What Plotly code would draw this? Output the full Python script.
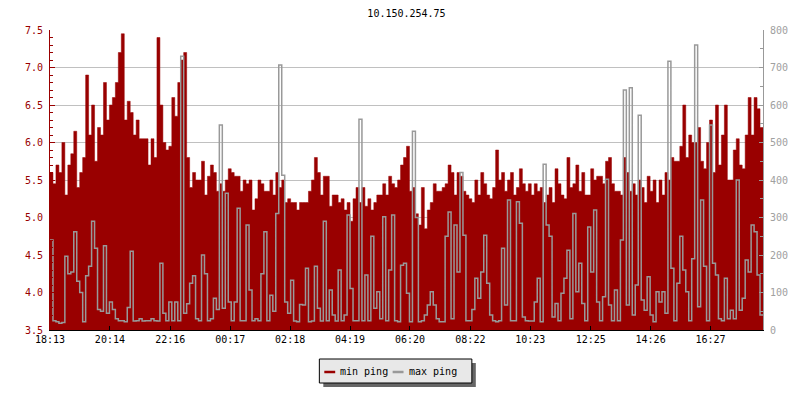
import plotly.graph_objects as go

# smokeping-style latency chart for one host, 24h window, 6 min samples
host = "10.150.254.75"
start_time = "18:13"
step_min = 6
tick_labels = ["18:13", "20:14", "22:16", "00:17", "02:18", "04:19",
               "06:20", "08:22", "10:23", "12:25", "14:26", "16:27"]

# min ping (ms, left axis)
min_ping = [
    5.6, 5.45, 5.7, 5.6, 6.0, 5.3, 5.7, 5.85, 6.15, 5.4, 5.6, 5.8, 6.9, 6.1, 6.5, 5.75, 6.2, 6.1, 6.8, 6.3,
    6.5, 6.6, 6.8, 7.2, 7.45, 6.3, 6.55, 6.4, 6.1, 6.3, 6.05, 6.05, 6.05, 5.7, 6.05, 5.8, 7.4, 6.5, 6.0, 5.9,
    5.95, 6.6, 6.35, 6.8, 7.1, 7.2, 5.8, 5.4, 5.6, 5.5, 5.5, 5.75, 5.3, 5.55, 5.7, 5.6, 5.35, 5.45, 5.35, 5.5,
    5.65, 5.6, 5.55, 5.55, 5.35, 5.5, 5.45, 5.5, 5.1, 5.25, 5.5, 5.45, 5.35, 5.35, 5.5, 5.3, 5.6, 5.4, 5.5, 5.2,
    5.25, 5.2, 5.2, 5.1, 5.2, 5.2, 5.2, 5.35, 5.5, 5.8, 5.6, 5.3, 5.55, 5.55, 5.15, 5.3, 5.3, 5.2, 5.25, 5.1,
    5.2, 4.95, 5.25, 5.4, 5.2, 5.4, 5.15, 5.25, 5.1, 5.2, 5.3, 5.3, 5.45, 5.3, 5.55, 5.45, 5.4, 5.5, 5.7, 5.8,
    5.95, 5.35, 5.4, 5.05, 4.9, 5.4, 4.85, 5.1, 5.2, 5.45, 5.35, 5.35, 5.4, 5.45, 5.7, 5.6, 5.3, 5.6, 5.55, 5.35,
    5.3, 5.25, 5.2, 5.5, 5.3, 5.6, 5.45, 5.3, 5.25, 5.4, 5.9, 5.5, 5.6, 5.35, 5.5, 5.6, 5.3, 5.4, 5.65, 5.45,
    5.35, 5.45, 5.3, 5.45, 5.35, 5.4, 5.2, 5.3, 5.4, 5.2, 5.65, 5.45, 5.3, 5.25, 5.8, 5.4, 5.45, 5.7, 5.35, 5.6,
    5.3, 5.3, 5.65, 5.5, 5.55, 5.55, 5.45, 5.75, 5.8, 5.45, 5.35, 5.35, 5.3, 5.8, 5.6, 5.35, 5.45, 5.3, 5.5, 5.4,
    5.2, 5.55, 5.35, 5.5, 5.2, 5.5, 5.3, 5.6, 5.5, 5.8, 5.75, 5.75, 5.95, 6.5, 5.8, 6.1, 6.0, 6.0, 6.2, 5.75,
    5.65, 6.0, 6.3, 5.6, 6.5, 5.7, 6.1, 6.5, 5.5, 5.5, 5.9, 6.05, 5.7, 5.65, 6.1, 6.6, 6.1, 6.6, 6.45, 6.2,
]

# max ping (ms, right axis)
max_ping = [
    240, 25, 22, 18, 20, 197, 150, 155, 262, 130, 100, 22, 145, 170, 290, 218, 55, 50, 225, 45,
    75, 55, 30, 25, 25, 22, 60, 210, 24, 25, 30, 24, 25, 25, 30, 25, 24, 178, 45, 25,
    75, 25, 75, 25, 730, 45, 70, 125, 145, 30, 25, 200, 150, 25, 30, 85, 55, 547, 58, 365,
    75, 25, 75, 325, 25, 25, 280, 107, 25, 30, 25, 150, 262, 25, 93, 50, 311, 707, 413, 75,
    45, 133, 24, 22, 68, 67, 165, 22, 24, 170, 58, 24, 290, 25, 107, 40, 24, 160, 25, 40,
    307, 111, 25, 25, 562, 25, 147, 25, 250, 58, 102, 30, 302, 25, 160, 307, 25, 22, 173, 178,
    98, 22, 530, 300, 22, 25, 40, 67, 102, 67, 30, 22, 22, 250, 315, 30, 280, 155, 420, 253,
    25, 25, 55, 138, 85, 155, 253, 125, 40, 25, 22, 25, 218, 67, 347, 25, 25, 342, 285, 35,
    25, 24, 24, 75, 138, 22, 442, 280, 250, 35, 71, 25, 98, 138, 213, 30, 311, 102, 178, 71,
    25, 275, 155, 320, 75, 25, 89, 402, 67, 25, 107, 25, 240, 640, 67, 646, 40, 120, 573, 80,
    53, 142, 40, 22, 102, 75, 102, 45, 717, 165, 25, 125, 250, 160, 102, 25, 190, 760, 62, 347,
    170, 25, 547, 178, 147, 30, 25, 138, 30, 53, 30, 400, 53, 85, 187, 155, 280, 262, 147, 40,
]

RED = "#990000"
GREY = "#999999"
FONT = "DejaVu Sans Mono"


def since_start(t):
    h, m = map(int, t.split(":"))
    sh, sm = map(int, start_time.split(":"))
    return (h * 60 + m - sh * 60 - sm) % 1440


# minutes since start for each sample, plus closing point for the step
x = [i * step_min for i in range(len(min_ping))]
x_end = x + [len(min_ping) * step_min]
tick_vals = [since_start(t) for t in tick_labels]

# page has an 8px body margin; plot area lands at 50..770 x, 30..330 y
def px(v):
    return (v - 50) / 720


def py(v):
    return (330 - v) / 300


fig = go.Figure()

fig.add_trace(go.Scatter(
    x=x_end, y=min_ping + [min_ping[-1]],
    mode="lines", line=dict(color=RED, width=0.5, shape="hv"),
    fill="tozeroy", fillcolor=RED,
    name="min ping", showlegend=False, hoverinfo="skip",
))
fig.add_trace(go.Scatter(
    x=x_end, y=max_ping + [max_ping[-1]], yaxis="y2",
    mode="lines", line=dict(color=GREY, width=1.5, shape="hv"),
    name="max ping", showlegend=False, hoverinfo="skip",
))

shapes = [
    # legend box with drop shadow
    dict(type="rect", xref="paper", yref="paper", x0=px(326), x1=px(480), y0=py(387), y1=py(363),
         fillcolor="#666666", line=dict(width=0), layer="above"),
    dict(type="rect", xref="paper", yref="paper", x0=px(322), x1=px(476), y0=py(383), y1=py(359),
         fillcolor="#e8e8e8", line=dict(color="black", width=1), layer="above"),
    dict(type="line", xref="paper", yref="paper", x0=px(327), x1=px(338), y0=py(372), y1=py(372),
         line=dict(color=RED, width=2.5), layer="above"),
    dict(type="line", xref="paper", yref="paper", x0=px(396), x1=px(407), y0=py(372), y1=py(372),
         line=dict(color=GREY, width=2.5), layer="above"),
]
annotations = [
    dict(text="min ping", xref="paper", yref="paper", x=px(341), y=py(371.5), xanchor="left",
         yanchor="middle", showarrow=False, font=dict(family=FONT, size=10, color="black")),
    dict(text="max ping", xref="paper", yref="paper", x=px(410), y=py(371.5), xanchor="left",
         yanchor="middle", showarrow=False, font=dict(family=FONT, size=10, color="black")),
]

fig.update_layout(
    width=792, height=392,
    margin=dict(l=42, r=30, t=22, b=70),
    paper_bgcolor="white", plot_bgcolor="white",
    font=dict(family=FONT, size=10, color="black"),
    title=dict(text=host, x=0.5, xref="paper", y=1 - 5 / 392, yref="container",
               xanchor="center", yanchor="middle", font=dict(family=FONT, size=10, color="black")),
    xaxis=dict(
        range=[0, len(min_ping) * step_min], tickvals=tick_vals, ticktext=tick_labels,
        showgrid=False, zeroline=False, showline=True, linecolor="black", linewidth=1,
        ticks="inside", ticklen=4, tickcolor="black", tickfont=dict(color="black"),
    ),
    yaxis=dict(
        range=[3.5, 7.5], dtick=0.5, tickformat=".1f",
        showgrid=True, gridcolor="#c0c0c0", gridwidth=1, zeroline=False,
        showline=True, linecolor=RED, linewidth=1,
        ticks="inside", ticklen=5, tickcolor=RED, tickfont=dict(color=RED),
        minor=dict(dtick=0.1, ticks="inside", ticklen=3, tickcolor=RED, showgrid=False),
        ticklabelstandoff=4,
    ),
    yaxis2=dict(
        range=[0, 800], dtick=100, overlaying="y", side="right",
        showgrid=False, zeroline=False, showline=True, linecolor=GREY, linewidth=1,
        ticks="inside", ticklen=4, tickcolor=GREY, tickfont=dict(color="#a0a0a0"),
        minor=dict(dtick=50, ticks="inside", ticklen=3, tickcolor=GREY, showgrid=False),
        ticklabelstandoff=4,
    ),
    shapes=shapes,
    annotations=annotations,
)

fig.write_html("out.html")
